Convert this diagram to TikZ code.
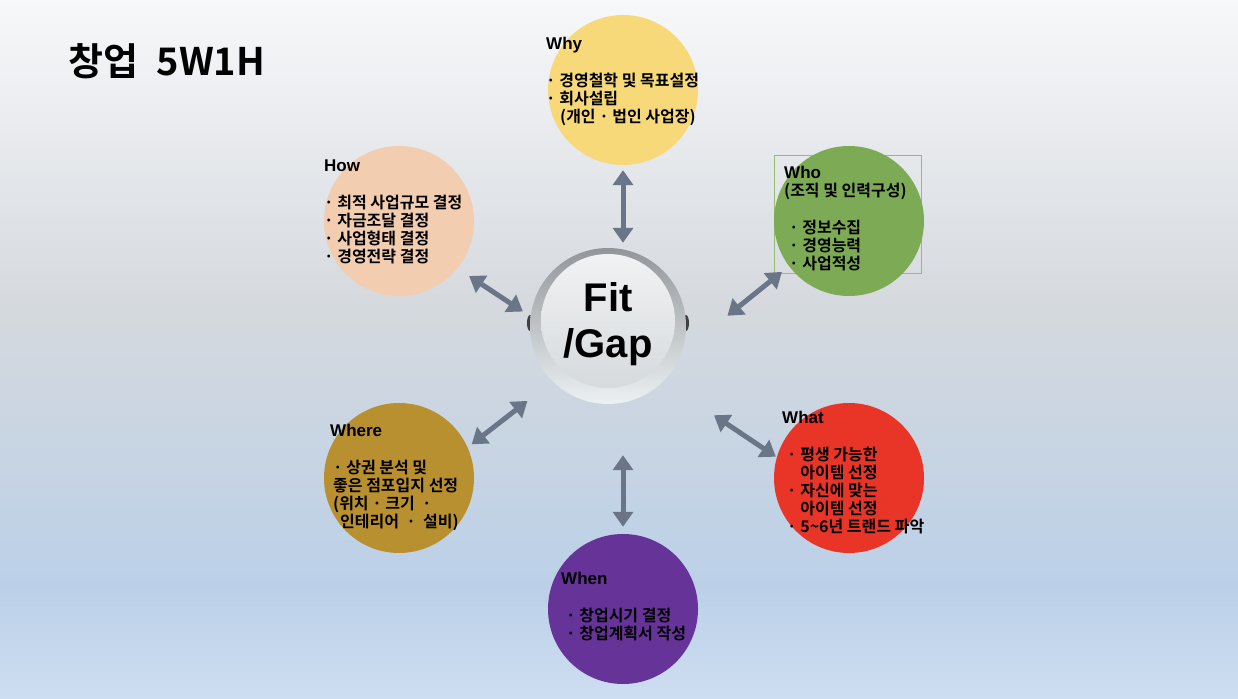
\documentclass[tikz,border=0pt]{standalone}
\usepackage{fontspec}
\usepackage{tikz}
\usetikzlibrary{arrows.meta, positioning, calc}
\setmainfont{Noto Sans CJK KR}[BoldFont={Noto Sans CJK KR Bold}]
\newfontfamily\arialfont{Liberation Sans}
\definecolor{bgtop}{RGB}{247, 248, 250}
\definecolor{bgmid}{RGB}{213, 217, 222}
\definecolor{bgbot}{RGB}{187, 208, 232}
\definecolor{bgfoot}{RGB}{206, 222, 241}
\definecolor{whyyellow}{RGB}{248, 217, 122}
\definecolor{howpeach}{RGB}{242, 205, 176}
\definecolor{whogreen}{RGB}{125, 170, 85}
\definecolor{wherebrown}{RGB}{185, 144, 48}
\definecolor{whatred}{RGB}{232, 53, 40}
\definecolor{whenpurple}{RGB}{102, 51, 153}
\definecolor{arrowslate}{RGB}{106, 117, 135}
\definecolor{boxgreen}{RGB}{150, 188, 115}
\definecolor{rimdark}{RGB}{146, 150, 154}
\definecolor{rimlight}{RGB}{236, 241, 243}
\definecolor{disctop}{RGB}{241, 242, 243}
\definecolor{discbot}{RGB}{214, 218, 221}
\pgfdeclareverticalshading{slidebg}{100bp}{color(0bp)=(bgfoot); color(25bp)=(bgfoot);
    color(33bp)=(bgbot); color(53bp)=(bgmid); color(75bp)=(bgtop); color(100bp)=(bgtop)}
\newcommand{\hd}[1]{{\arialfont\bfseries\fontsize{17}{18}\selectfont #1}}
\tikzset{
    bubble/.style={circle, minimum size=150pt, inner sep=0pt, fill=#1},
    hub/.style={circle, minimum size=156pt, inner sep=0pt,
                top color=rimdark, bottom color=rimlight},
    txt/.style={anchor=north west, align=left, inner sep=0pt, text=black,
                font=\bfseries\fontsize{16}{18}\selectfont},
    dblarr/.style={line width=5pt, arrowslate,
                   {Triangle[width=20pt,length=15pt]}-{Triangle[width=20pt,length=15pt]}},
}

\begin{document}
\begin{tikzpicture}[x=1pt, y=1pt]
    % background
    \shade[shading=slidebg] (0,0) rectangle (1238,698);
    \useasboundingbox (0,0) rectangle (1238,698);

    \node[anchor=base west, inner sep=0pt, font=\bfseries\fontsize{38}{44}\selectfont] (title) at (68,622) {창업\hspace{10pt} 5W1H};

    % circles
    \node[draw=boxgreen, line width=0.8pt, minimum width=147pt, minimum height=118pt] (whobox) at (847.5,484) {};
    \node[bubble=whyyellow] (why) at (623,608) {};
    \node[bubble=howpeach] (how) at (399,477) {};
    \node[bubble=whogreen] (who) at (849,477) {};
    \node[bubble=wherebrown] (where) at (399,220) {};
    \node[bubble=whatred] (what) at (849,220) {};
    \node[bubble=whenpurple] (when) at (623,89) {};

    % texts
    \node[txt] (whytext) at ([shift={(-77,53)}]why.center)
        {\hd{Why}\\[19pt]· 경영철학 및 목표설정\\· 회사설립\\\hspace*{14pt}(개인 · 법인 사업장)};
    \node[txt] (howtext) at ([shift={(-75,61)}]how.center)
        {\hd{How}\\[19pt]· 최적 사업규모 결정\\· 자금조달 결정\\· 사업형태 결정\\· 경영전략 결정};
    \node[txt] (whotext) at ([shift={(-65,55)}]who.center)
        {\hd{Who}\\(조직 및 인력구성)\\[19pt]\hspace*{5pt}· 정보수집\\\hspace*{5pt}· 경영능력\\\hspace*{5pt}· 사업적성};
    \node[txt] (wheretext) at ([shift={(-69,54)}]where.center)
        {\hd{Where}\\[19pt]\hspace*{3pt}· 상권 분석 및\\\hspace*{3pt}좋은 점포입지 선정\\\hspace*{3pt}(위치 · 크기 \ ·\\\hspace*{10pt}인테리어 \ · \ 설비)};
    \node[txt] (whattext) at ([shift={(-67,67)}]what.center)
        {\hd{What}\\[19pt]\hspace*{5pt}· 평생 가능한\\\hspace*{5pt}\phantom{· }아이템 선정\\\hspace*{5pt}· 자신에 맞는\\\hspace*{5pt}\phantom{· }아이템 선정\\\hspace*{5pt}· 5\textasciitilde 6년 트랜드 파악};
    \node[txt] (whentext) at ([shift={(-62,37)}]when.center)
        {\hd{When}\\[19pt]\hspace*{5pt}· 창업시기 결정\\\hspace*{5pt}· 창업계획서 작성};

    % centre button
    \fill[black!75] (608,372) ++(-78,3) ellipse (3pt and 8pt);
    \fill[black!75] (608,372) ++(78,3) ellipse (3pt and 8pt);
    \node[hub] (fit) at (608,372) {};
    \shade[top color=disctop, bottom color=discbot] ([yshift=5pt]fit.center) circle (67pt);
    \node[align=center, inner sep=0pt, font=\arialfont\bfseries\fontsize{40}{46}\selectfont] (fittext) at ([yshift=1.5pt]fit.center) {Fit\\/Gap};

    % arrows
    \draw[dblarr, shorten <=5pt, shorten >=5pt] (why.south) -- (why.south |- fit.north);
    \draw[dblarr, shorten <=51pt, shorten >=7pt] (when.north |- fit.south) -- (when.north);
    \draw[dblarr, shorten <=14pt, shorten >=9pt] (how.-39) -- (fit.173);
    \draw[dblarr, shorten <=9pt, shorten >=59pt] (who.217) -- (fit.-20);
    \draw[dblarr, shorten <=5pt, shorten >=32pt] (where.24) -- (fit.225);
    \draw[dblarr, shorten <=1pt, shorten >=61pt] (what.164) -- (fit.-45);
\end{tikzpicture}
\end{document}
